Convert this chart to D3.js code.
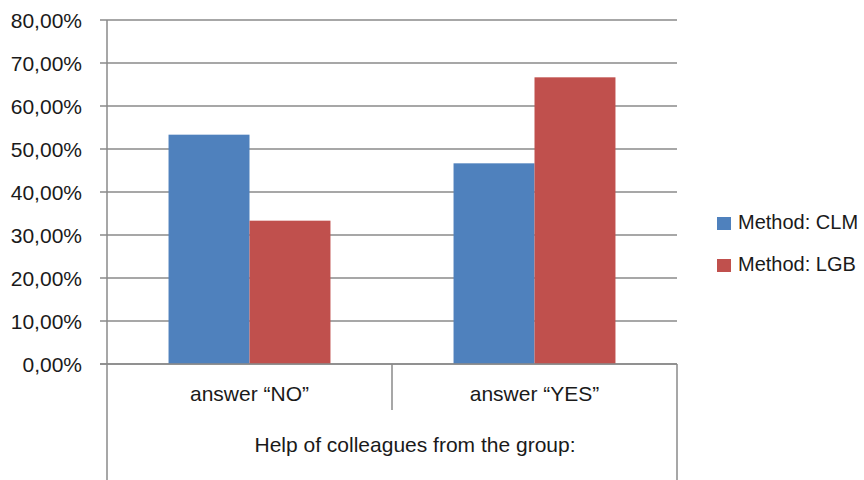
<!DOCTYPE html>
<html><head><meta charset="utf-8">
<script src="https://cdn.jsdelivr.net/npm/d3@7"></script>
<style>body{margin:0;background:#fff}svg{display:block}text{font-family:"Liberation Sans",Arial,sans-serif;fill:#1a1a1a}</style>
</head><body>
<svg id="c" width="864" height="480"></svg>
<script>
const categories = ["answer \u201cNO\u201d", "answer \u201cYES\u201d"];
const seriesNames = ["Method: CLM", "Method: LGB"];
const clmValues = [53.33, 46.67];
const lgbValues = [33.33, 66.67];
const yTicks = [0, 10, 20, 30, 40, 50, 60, 70, 80];
const groupLabel = "Help of colleagues from the group:";
const colors = ["#4F81BD", "#C0504D"];

const svg = d3.select("#c");
const L = 107, R = 677, T = 20, B = 364;
const x = d3.scaleBand().domain(categories).range([L, R]).padding(0);
const xi = d3.scaleBand().domain(seriesNames).range([0, x.bandwidth()]).paddingInner(0).paddingOuter(0.76);
const y = d3.scaleLinear().domain([0, 80]).range([B, T]);
const grid = "#8a8a8a";

// gridlines
svg.append("g").selectAll("line").data(yTicks).join("line")
  .attr("x1", L - 7).attr("x2", R).attr("y1", d => y(d)).attr("y2", d => y(d))
  .attr("stroke", grid).attr("stroke-width", 1.5);

// y labels
svg.append("g").selectAll("text").data(yTicks).join("text")
  .attr("x", 82).attr("y", d => y(d)).attr("dy", "0.36em").attr("text-anchor", "end")
  .attr("font-size", 21).text(d => d.toFixed(2).replace(".", ",") + "%");

// bars
const data = categories.map((c, i) => ({c, vals: [clmValues[i], lgbValues[i]]}));
const g = svg.append("g").selectAll("g").data(data).join("g").attr("transform", d => `translate(${x(d.c)},0)`);
g.selectAll("rect").data(d => d.vals.map((v, j) => ({s: seriesNames[j], v, j}))).join("rect")
  .attr("x", d => xi(d.s)).attr("width", xi.bandwidth())
  .attr("y", d => y(d.v)).attr("height", d => y(0) - y(d.v))
  .attr("fill", d => colors[d.j]);

// baseline
svg.append("line").attr("x1", L - 7).attr("x2", R).attr("y1", y(0)).attr("y2", y(0)).attr("stroke", grid).attr("stroke-width", 1.5);
// axis lines
svg.append("line").attr("x1", L).attr("x2", L).attr("y1", T).attr("y2", 480).attr("stroke", grid).attr("stroke-width", 1.5);
svg.append("line").attr("x1", R).attr("x2", R).attr("y1", B).attr("y2", 480).attr("stroke", grid).attr("stroke-width", 1.5);
svg.append("line").attr("x1", x(categories[1])).attr("x2", x(categories[1])).attr("y1", B).attr("y2", 410).attr("stroke", grid).attr("stroke-width", 1.5);

// category labels
svg.append("g").selectAll("text").data(categories).join("text")
  .attr("x", d => x(d) + x.bandwidth() / 2).attr("y", 401).attr("text-anchor", "middle")
  .attr("font-size", 21).text(d => d);
svg.append("text").attr("x", 415).attr("y", 452).attr("text-anchor", "middle").attr("font-size", 21).text(groupLabel);

// legend
const lg = svg.append("g").selectAll("g").data(seriesNames).join("g")
  .attr("transform", (d, i) => `translate(717,${217 + i * 42})`);
lg.append("rect").attr("width", 14).attr("height", 13).attr("fill", (d, i) => colors[i]);
lg.append("text").attr("x", 21).attr("y", 12).attr("font-size", 20).text(d => d);
</script>
</body></html>
